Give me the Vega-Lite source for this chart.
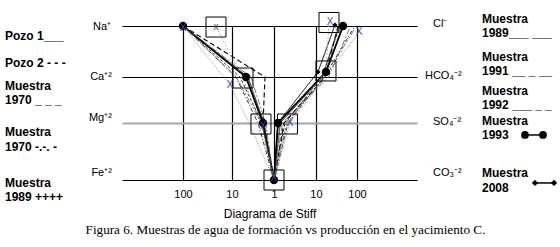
{
  "$schema": "https://vega.github.io/schema/vega-lite/v6.json",
  "width": 295,
  "height": 154,
  "autosize": "none",
  "padding": {"left": 122, "top": 26, "right": 143, "bottom": 67},
  "background": "white",
  "config": {"view": {"stroke": null}, "font": "Liberation Sans"},
  "title": {"text": "Figura 6. Muestras de agua de formación vs producción en el yacimiento C.", "orient": "bottom", "anchor": "middle", "font": "Liberation Serif", "fontSize": 13.2, "fontWeight": "normal", "color": "black", "offset": 5, "dx": 16},
  "datasets": {
    "pts": [
      {"s": "1993", "o": 1, "p": -2.167, "l": 0}, {"s": "1993", "o": 2, "p": -0.667, "l": 1}, {"s": "1993", "o": 3, "p": -0.262, "l": 1.902}, {"s": "1993", "o": 4, "p": 0, "l": 3.02}, {"s": "1993", "o": 5, "p": 0.095, "l": 1.902}, {"s": "1993", "o": 6, "p": 1.238, "l": 0.9}, {"s": "1993", "o": 7, "p": 1.643, "l": 0},
      {"s": "2008", "o": 1, "p": -2.167, "l": 0}, {"s": "2008", "o": 2, "p": -0.667, "l": 1}, {"s": "2008", "o": 3, "p": -0.262, "l": 1.902}, {"s": "2008", "o": 4, "p": 0, "l": 3.02}, {"s": "2008", "o": 5, "p": 0.095, "l": 1.902}, {"s": "2008", "o": 6, "p": 1.048, "l": 0.9}, {"s": "2008", "o": 7, "p": 1.452, "l": -0.02},
      {"s": "Pozo1", "o": 1, "p": -2.167, "l": 0}, {"s": "Pozo1", "o": 2, "p": -0.62, "l": 1}, {"s": "Pozo1", "o": 3, "p": -0.24, "l": 1.902}, {"s": "Pozo1", "o": 4, "p": 0, "l": 3.02}, {"s": "Pozo1", "o": 5, "p": 0.15, "l": 1.902}, {"s": "Pozo1", "o": 6, "p": 1.15, "l": 1}, {"s": "Pozo1", "o": 7, "p": 1.55, "l": 0},
      {"s": "Pozo2", "o": 1, "p": -2.167, "l": 0}, {"s": "Pozo2", "o": 2, "p": -0.81, "l": 1}, {"s": "Pozo2", "o": 3, "p": -0.286, "l": 1.902}, {"s": "Pozo2", "o": 4, "p": 0, "l": 3.02}, {"s": "Pozo2", "o": 5, "p": 0.262, "l": 1.902}, {"s": "Pozo2", "o": 6, "p": 1.143, "l": 1}, {"s": "Pozo2", "o": 7, "p": 1.571, "l": 0},
      {"s": "1970a", "o": 1, "p": -2.167, "l": 0}, {"s": "1970a", "o": 2, "p": -0.214, "l": 1}, {"s": "1970a", "o": 3, "p": -0.262, "l": 1.902}, {"s": "1970a", "o": 4, "p": 0, "l": 3.02}, {"s": "1970a", "o": 5, "p": 0.238, "l": 1.902}, {"s": "1970a", "o": 6, "p": 1.214, "l": 1}, {"s": "1970a", "o": 7, "p": 1.524, "l": 0},
      {"s": "1970b", "o": 1, "p": -2.167, "l": 0}, {"s": "1970b", "o": 2, "p": -0.905, "l": 1}, {"s": "1970b", "o": 3, "p": -0.381, "l": 1.902}, {"s": "1970b", "o": 4, "p": 0, "l": 3.02}, {"s": "1970b", "o": 5, "p": 0.333, "l": 1.902}, {"s": "1970b", "o": 6, "p": 1.19, "l": 1}, {"s": "1970b", "o": 7, "p": 1.929, "l": 0},
      {"s": "1989", "o": 1, "p": -2.167, "l": 0}, {"s": "1989", "o": 2, "p": -1.048, "l": 1.157}, {"s": "1989", "o": 3, "p": -0.595, "l": 1.902}, {"s": "1989", "o": 4, "p": 0, "l": 3.02}, {"s": "1989", "o": 5, "p": 0.381, "l": 1.902}, {"s": "1989", "o": 6, "p": 1.262, "l": 0.95}, {"s": "1989", "o": 7, "p": 2.024, "l": 0.118},
      {"s": "Box", "o": 1, "p": -1.381, "l": 0.02}, {"s": "Box", "o": 2, "p": -0.738, "l": 1.02}, {"s": "Box", "o": 3, "p": -0.31, "l": 1.92}, {"s": "Box", "o": 4, "p": 0, "l": 3.02}, {"s": "Box", "o": 5, "p": 0.31, "l": 1.92}, {"s": "Box", "o": 6, "p": 1.238, "l": 0.88}, {"s": "Box", "o": 7, "p": 1.31, "l": -0.08},
      {"s": "1991", "o": 1, "p": -2.167, "l": 0}, {"s": "1991", "o": 2, "p": -0.55, "l": 1}, {"s": "1991", "o": 3, "p": -0.2, "l": 1.902}, {"s": "1991", "o": 4, "p": 0, "l": 3.02}, {"s": "1991", "o": 5, "p": 0.2, "l": 1.902}, {"s": "1991", "o": 6, "p": 1.3, "l": 1}, {"s": "1991", "o": 7, "p": 1.8, "l": 0.05},
      {"s": "1992", "o": 1, "p": -2.167, "l": 0}, {"s": "1992", "o": 2, "p": -0.9, "l": 1}, {"s": "1992", "o": 3, "p": -0.3, "l": 1.902}, {"s": "1992", "o": 4, "p": 0, "l": 3.02}, {"s": "1992", "o": 5, "p": 0.3, "l": 1.902}, {"s": "1992", "o": 6, "p": 1.26, "l": 0.95}, {"s": "1992", "o": 7, "p": 1.9, "l": 0.08}
    ],
    "boxes": [
      {"p": -1.381, "l": 0.02}, {"p": -0.738, "l": 1.02}, {"p": -0.31, "l": 1.922}, {"p": 0, "l": 3.02}, {"p": 0.321, "l": 1.922}, {"p": 1.238, "l": 0.882}, {"p": 1.31, "l": -0.069}
    ],
    "xs": [
      {"t": "X", "p": -2.167, "l": 0.04}, {"t": "x", "p": -1.381, "l": 0.02}, {"t": "X", "p": -1.048, "l": 1.157}, {"t": "X", "p": -0.262, "l": 1.96}, {"t": "X", "p": 0, "l": 2.99}, {"t": "X", "p": 0.381, "l": 1.902}, {"t": "X", "p": 1.333, "l": -0.08}, {"t": "X", "p": 2.024, "l": 0.118}
    ],
    "txt": [
      {"k": "L", "t": "Na⁺", "p": -3.88, "l": 0.02},
      {"k": "L", "t": "Ca⁺²", "p": -3.86, "l": 1.0},
      {"k": "L", "t": "Mg⁺²", "p": -3.86, "l": 1.804},
      {"k": "L", "t": "Fe⁺²", "p": -3.86, "l": 2.882},
      {"k": "R", "t": "Cl⁻", "p": 3.786, "l": -0.04},
      {"k": "R", "t": "HCO₄⁻²", "p": 3.595, "l": 0.98},
      {"k": "R", "t": "SO₄⁻²", "p": 3.786, "l": 1.88},
      {"k": "R", "t": "CO₃⁻²", "p": 3.786, "l": 2.88},
      {"k": "G", "t": "Pozo 1___", "p": -6.405, "l": 0.196},
      {"k": "G", "t": "Pozo 2 - - -", "p": -6.405, "l": 0.725},
      {"k": "G", "t": "Muestra", "p": -6.405, "l": 1.176},
      {"k": "G", "t": "1970  _ _ _", "p": -6.405, "l": 1.451},
      {"k": "G", "t": "Muestra", "p": -6.405, "l": 2.078},
      {"k": "G", "t": "1970 -.-. -", "p": -6.405, "l": 2.373},
      {"k": "G", "t": "Muestra", "p": -6.405, "l": 3.078},
      {"k": "G", "t": "1989 ++++", "p": -6.405, "l": 3.353},
      {"k": "G", "t": "Muestra", "p": 4.952, "l": -0.137},
      {"k": "G", "t": "1989___ ___", "p": 4.952, "l": 0.137},
      {"k": "G", "t": "Muestra", "p": 4.952, "l": 0.608},
      {"k": "G", "t": "1991 __ _ __", "p": 4.952, "l": 0.882},
      {"k": "G", "t": "Muestra", "p": 4.952, "l": 1.275},
      {"k": "G", "t": "1992 ___ _ _", "p": 4.952, "l": 1.549},
      {"k": "G", "t": "Muestra", "p": 4.952, "l": 1.863},
      {"k": "G", "t": "1993", "p": 4.952, "l": 2.137},
      {"k": "G", "t": "Muestra", "p": 4.952, "l": 2.882},
      {"k": "G", "t": " 2008", "p": 4.952, "l": 3.176}
    ],
    "sym": [
      {"s": "a", "p": 5.976, "l": 2.137}, {"s": "a", "p": 6.405, "l": 2.137},
      {"s": "b", "p": 6.214, "l": 3.078}, {"s": "b", "p": 6.667, "l": 3.078}
    ]
  },
  "encoding": {
    "x": {"field": "p", "type": "quantitative", "scale": {"domain": [-3.619, 3.405], "nice": false, "zero": false},
      "axis": {"values": [-2.167, -1, 0, 1, 1.976], "labelExpr": "abs(datum.value) > 1.5 ? '100' : (abs(datum.value) > 0.5 ? '10' : '1')", "grid": true, "gridColor": "black", "gridWidth": 1.2, "domain": false, "ticks": false, "labelFontSize": 11, "labelColor": "black", "labelPadding": 8, "labelFlush": false, "labelOverlap": false, "title": "Diagrama de Stiff", "titleFontSize": 12, "titleFontWeight": "normal", "titleColor": "black", "titlePadding": 9}},
    "y": {"field": "l", "type": "quantitative", "scale": {"domain": [0, 3.02], "reverse": true, "nice": false, "zero": false},
      "axis": {"values": [0, 1, 1.902, 3.02], "grid": true, "gridColor": {"condition": {"test": "datum.value > 1.5 && datum.value < 2", "value": "#a6a6a6"}, "value": "black"}, "gridWidth": {"condition": {"test": "datum.value > 1.5 && datum.value < 2", "value": 2}, "value": 1.2}, "domain": false, "ticks": false, "labels": false, "title": null}}
  },
  "layer": [
    {
      "data": {"name": "pts"},
      "mark": {"type": "line", "clip": false},
      "encoding": {
        "order": {"field": "o", "type": "quantitative"},
        "color": {"field": "s", "type": "nominal", "legend": null, "scale": {"domain": ["1989", "Box", "1991", "1992", "1970b", "Pozo2", "1970a", "Pozo1", "2008", "1993"], "range": ["#8a8a8a", "#9a9a9a", "#555555", "#666666", "#333333", "#333333", "#111111", "#222222", "#000000", "#000000"]}},
        "strokeDash": {"field": "s", "type": "nominal", "legend": null, "scale": {"domain": ["1989", "Box", "1991", "1992", "1970b", "Pozo2", "1970a", "Pozo1", "2008", "1993"], "range": [[1, 1], [2, 2], [6, 2, 2, 2], [6, 2, 2, 2, 2, 2], [4, 2, 1, 2], [3, 2], [5, 3], [1, 0], [1, 0], [1, 0]]}},
        "strokeWidth": {"field": "s", "type": "nominal", "legend": null, "scale": {"type": "ordinal", "domain": ["1989", "Box", "1991", "1992", "1970b", "Pozo2", "1970a", "Pozo1", "2008", "1993"], "range": [0.8, 0.8, 0.8, 0.8, 1, 1, 1.2, 1, 1, 1.8]}}
      }
    },
    {
      "data": {"name": "pts"},
      "transform": [{"filter": "datum.s === '1993'"}],
      "mark": {"type": "point", "filled": true, "color": "black", "size": 70, "opacity": 1, "clip": false}
    },
    {
      "data": {"name": "pts"},
      "transform": [{"filter": "datum.s === '2008'"}],
      "mark": {"type": "point", "shape": "diamond", "filled": true, "color": "black", "size": 25, "opacity": 1, "clip": false}
    },
    {
      "data": {"name": "boxes"},
      "mark": {"type": "point", "shape": "square", "filled": false, "stroke": "black", "strokeWidth": 1, "size": 400, "opacity": 1, "clip": false}
    },
    {
      "data": {"name": "xs"},
      "mark": {"type": "text", "color": "#1f4fb0", "fontSize": 10, "font": "Liberation Sans", "align": "center", "baseline": "middle"},
      "encoding": {"text": {"field": "t"}}
    },
    {
      "data": {"name": "txt"},
      "transform": [{"filter": "datum.k === 'L'"}],
      "mark": {"type": "text", "align": "right", "baseline": "middle", "fontSize": 11, "color": "black", "font": "Liberation Sans"},
      "encoding": {"text": {"field": "t"}}
    },
    {
      "data": {"name": "txt"},
      "transform": [{"filter": "datum.k === 'R'"}],
      "mark": {"type": "text", "align": "left", "baseline": "middle", "fontSize": 11, "color": "black", "font": "Liberation Sans"},
      "encoding": {"text": {"field": "t"}}
    },
    {
      "data": {"name": "txt"},
      "transform": [{"filter": "datum.k === 'G'"}],
      "mark": {"type": "text", "align": "left", "baseline": "middle", "fontSize": 12, "fontWeight": "bold", "color": "black", "font": "Liberation Sans"},
      "encoding": {"text": {"field": "t"}}
    },
    {
      "data": {"name": "sym"},
      "mark": {"type": "line", "color": "black", "strokeWidth": 1.5, "clip": false},
      "encoding": {"detail": {"field": "s", "type": "nominal"}}
    },
    {
      "data": {"name": "sym"},
      "mark": {"type": "point", "filled": true, "color": "black", "opacity": 1, "clip": false},
      "encoding": {
        "shape": {"field": "s", "type": "nominal", "legend": null, "scale": {"domain": ["a", "b"], "range": ["circle", "diamond"]}},
        "size": {"field": "s", "type": "nominal", "legend": null, "scale": {"type": "ordinal", "domain": ["a", "b"], "range": [60, 40]}}}
    }
  ]
}
